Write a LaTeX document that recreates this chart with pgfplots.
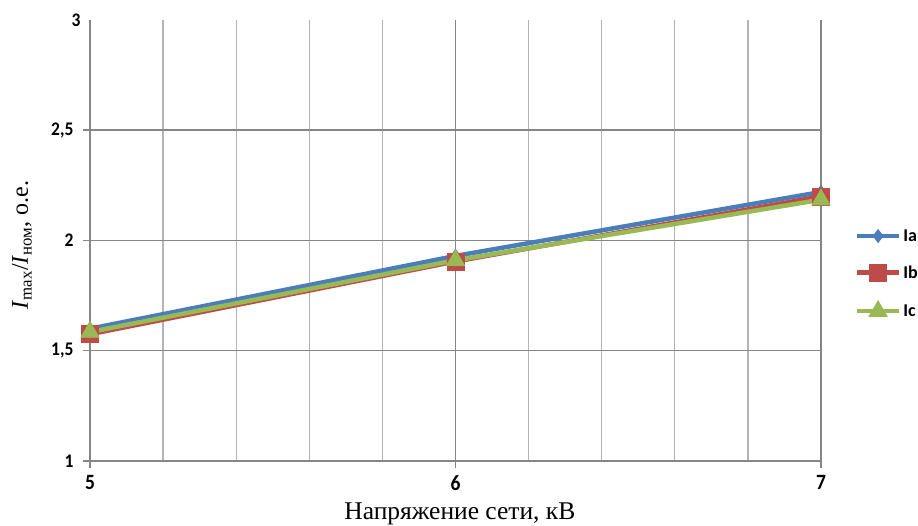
\documentclass[border=0pt]{standalone}
\usepackage{pgfplots}
\pgfplotsset{compat=1.18}
\usepackage{fontspec}
\setmainfont{Liberation Serif}
\newfontfamily\carlito{Carlito}
\definecolor{ca}{RGB}{74,126,187}
\definecolor{cb}{RGB}{190,75,72}
\definecolor{cc}{RGB}{152,185,84}
\definecolor{gmaj}{RGB}{134,134,134}
\definecolor{gmin}{RGB}{180,180,180}
\begin{document}
\begin{tikzpicture}
\begin{axis}[
 at={(0,0)}, anchor=south west,
 scale only axis, width=731bp, height=441bp,
 xmin=5, xmax=7, ymin=1, ymax=3,
 clip=false,
 axis x line*=bottom, axis y line*=left,
 axis line style={gmaj, line width=1.5bp, -},
 xtick={5,6,7}, ytick={1,1.5,2,2.5},
 extra y ticks={3}, extra y tick style={grid=none, major tick length=0pt},
 minor x tick num=4,
 xmajorgrids, ymajorgrids, xminorgrids,
 major grid style={gmaj, line width=1.5bp},
 minor grid style={gmin, line width=1.3bp},
 minor tick length=0pt,
 major tick length=7bp,
 tick align=outside,
 tick style={gmaj, line width=1.5bp},
 /pgf/number format/assume math mode=true,
 /pgf/number format/use comma,
 xticklabel={\scalebox{1}[1.12]{\pgfmathprintnumber{\tick}}},
 yticklabel={\scalebox{1}[1.1]{\pgfmathprintnumber{\tick}}},
 xticklabel style={font=\carlito\bfseries\fontsize{19.5bp}{21bp}\selectfont, black, yshift=-5bp, inner ysep=2bp},
 yticklabel style={font=\carlito\bfseries\fontsize{17.5bp}{19bp}\selectfont, black, xshift=-6bp},
 xlabel={Напряжение сети, кВ},
 ylabel={\textit{I}\textsubscript{max}/\textit{I}\textsubscript{ном}, о.е.},
 xlabel style={font=\fontsize{25.5bp}{27bp}\selectfont, at={(axis description cs:0.506,-0.121)}, anchor=center, inner sep=1bp},
 ylabel style={font=\fontsize{24bp}{26bp}\selectfont, at={(axis description cs:-0.093,0.49)}, anchor=center},
 legend style={draw=none, fill=none, at={(axis description cs:1.046,0.53)}, anchor=north west,
   font=\carlito\bfseries\fontsize{18bp}{20bp}\selectfont, row sep=19bp, inner sep=0pt},
 legend cell align=left,
 legend image code/.code={\draw[mark repeat=2,mark phase=2] plot coordinates {(0bp,0bp)(21bp,0bp)(42bp,0bp)};},
]
\addplot[ca, line width=4.5bp, mark=diamond*, mark size=6.5bp, mark options={solid, line width=0.75bp}] coordinates {(5,1.60)(6,1.93)(7,2.22)};
\addlegendentry{Ia}
\addplot[cb, line width=4.5bp, mark=square*, mark size=8.5bp, mark options={solid, line width=0.75bp}] coordinates {(5,1.575)(6,1.905)(7,2.2)};
\addlegendentry{Ib}
\addplot[cc, line width=4.5bp, mark=triangle*, mark size=10.5bp, mark options={solid, line width=0.75bp}] coordinates {(5,1.585)(6,1.91)(7,2.185)};
\addlegendentry{Ic}
\end{axis}
\pgfresetboundingbox
\path[use as bounding box] (-90bp,-65bp) rectangle (828bp,461bp);
\end{tikzpicture}
\end{document}
